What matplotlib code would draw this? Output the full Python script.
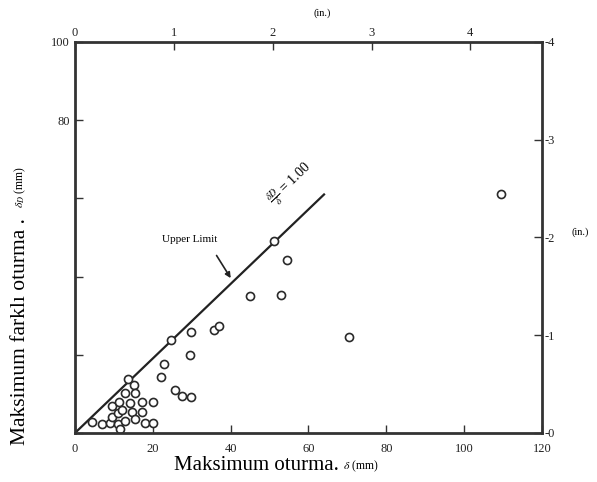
import matplotlib
matplotlib.use("Agg")
import matplotlib.pyplot as plt

plt.rcParams["font.family"] = ["Liberation Serif", "DejaVu Serif"]
plt.rcParams["mathtext.fontset"] = "stix"

# settlement data (mm): maximum settlement vs maximum differential settlement
delta = [4.3, 7.0, 9.0, 9.4, 9.4, 11.1, 11.6, 11.1, 12.0, 11.4, 12.9, 12.9,
         13.7, 14.1, 14.6, 15.2, 15.4, 15.4, 17.3, 17.3, 18.0, 20.1, 20.1,
         22.0, 23.0, 24.7, 25.7, 27.6, 29.8, 29.6, 29.8, 35.7, 37.0, 45.0,
         51.2, 53.0, 54.5, 70.4, 109.5]
delta_d = [2.9, 2.3, 2.6, 4.2, 6.8, 2.4, 0.9, 5.2, 6.0, 8.0, 10.2, 3.0,
           13.7, 7.7, 5.4, 12.2, 10.2, 3.5, 7.9, 5.3, 2.5, 2.5, 7.9,
           14.3, 17.6, 23.8, 11.0, 9.4, 9.2, 20.0, 25.8, 26.3, 27.4, 35.0,
           49.1, 35.3, 44.2, 24.6, 61.1]

# upper limit line
ul_x = [0, 64]
ul_y = [0, 61]

x_ticks = [0, 20, 40, 60, 80, 100, 120]
y_ticks = [0, 20, 40, 60, 80, 100]
y_labels = ["", "", "", "", "80", "100"]
in_ticks = [0, 1, 2, 3, 4]
right_pos = [0, 25, 50, 75, 100]
right_labels = ["-0", "-1", "-2", "-3", "-4"]

fig = plt.figure(figsize=(5.97, 4.82), dpi=100)
ax = fig.add_axes([0.1256, 0.1017, 0.7822, 0.8112])
ink = "#333333"

ax.plot(ul_x, ul_y, color="#222222", lw=1.6)
ax.plot(delta, delta_d, "o", ms=5.8, mfc="white", mec="#2a2a2a", mew=1.2,
        linestyle="none")

ax.set_xlim(0, 120)
ax.set_ylim(0, 100)
for s in ax.spines.values():
    s.set_linewidth(2)
    s.set_color(ink)

ax.set_xticks(x_ticks)
ax.set_yticks(y_ticks)
ax.set_yticklabels(y_labels)
ax.tick_params(axis="both", direction="in", length=6, width=1, colors=ink,
               labelsize=9, labelcolor="#222222")
ax.tick_params(axis="x", pad=7)

# top axis in inches
top = ax.secondary_xaxis("top", functions=(lambda v: v / 25.4, lambda v: v * 25.4))
top.set_xticks(in_ticks)
top.tick_params(direction="in", length=6, width=1, colors=ink, labelsize=9,
                labelcolor="#222222", pad=2)
top.spines["top"].set_visible(False)

# right axis in inches
right = ax.twinx()
right.set_ylim(0, 100)
right.set_yticks(right_pos)
right.set_yticklabels(right_labels)
right.tick_params(direction="in", length=6, width=1, colors=ink, labelsize=9,
                  labelcolor="#222222", pad=2)
for s in right.spines.values():
    s.set_visible(False)

fig.text(0.54, 0.972, "(in.)", ha="center", va="center", fontsize=7.5)
fig.text(0.972, 0.519, "(in.)", ha="center", va="center", fontsize=7.5)

# labels
fig.text(0.292, 0.035, "Maksimum oturma.", ha="left", va="center", fontsize=15)
fig.text(0.574, 0.033, r"$\delta$ (mm)", ha="left", va="center", fontsize=8.5)
fig.text(0.034, 0.077, "Maksimum farklı oturma .", rotation=90, ha="center",
         va="bottom", fontsize=15.5)
fig.text(0.034, 0.568, r"$\delta_D$ (mm)", rotation=90, ha="center",
         va="bottom", fontsize=8.5)

# annotations
ax.annotate("", xy=(40.4, 39), xytext=(36, 46),
            arrowprops=dict(arrowstyle="-|>", color="#222222", lw=1.2,
                            mutation_scale=8))
ax.text(29.5, 49.5, "Upper Limit", ha="center", va="center", fontsize=8)
ax.text(55.5, 63.5, r"$\frac{\delta D}{\delta}$ = 1.00", ha="center",
        va="center", fontsize=10, rotation=44)

fig.savefig("out.png", dpi=100)
